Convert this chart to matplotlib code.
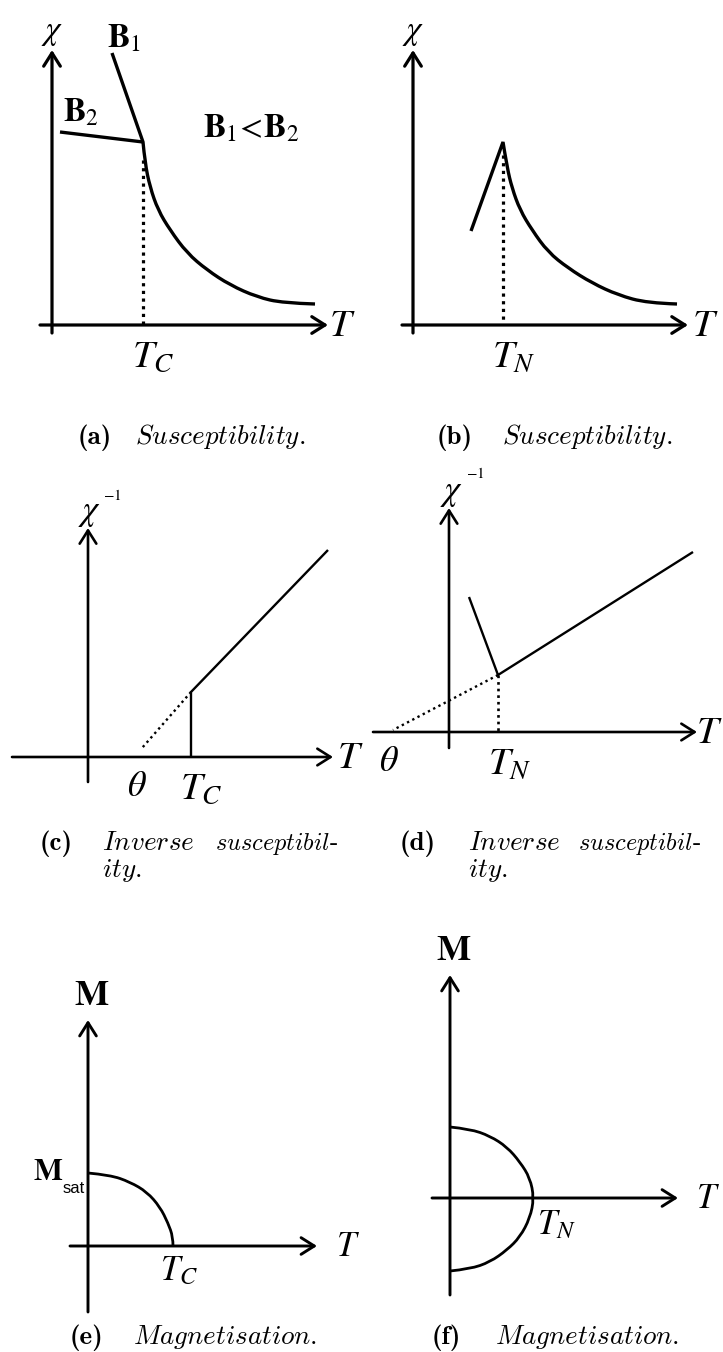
import matplotlib.pyplot as plt
from matplotlib.path import Path
from matplotlib.patches import PathPatch

plt.rcParams['mathtext.fontset'] = 'stix'

W, H = 723, 1352

# (a) ferromagnet: chi(T) for two fields, Curie-Weiss tail above T_C
a_TC = 91
a_B1_T = [60, 91]
a_B1_chi = [272, 183]
a_B2_T = [8, 91]
a_B2_chi = [193, 183]
a_tail_T = [91, 93, 98, 106, 118, 135, 155, 178, 205, 231, 263]
a_tail_chi = [183, 162, 138, 115, 95, 72, 55, 40, 28, 22, 21]

# (b) antiferromagnet: cusp at T_N
b_TN = 90
b_low_T = [58, 90]
b_low_chi = [94, 183]
b_tail_T = [90, 94, 99, 107, 119, 135, 155, 179, 205, 234, 264]
b_tail_chi = [183, 158, 137, 115, 95, 73, 57, 42, 30, 22, 21]

# (c) inverse susceptibility, ferromagnet
c_line_T = [103, 103, 240]
c_line_inv = [0, 65, 207]
c_extrap_T = [103, 54]
c_extrap_inv = [65, 9]

# (d) inverse susceptibility, antiferromagnet
d_TN = 49
d_T = [20, 49, 244]
d_inv = [135, 57, 180]
d_extrap_T = [49, -56]
d_extrap_inv = [57, 2]

# (e) spontaneous magnetisation
e_T = [0, 22, 42, 59, 72, 80, 85, 85]
e_M = [73, 71, 64, 54, 39, 23, 9, 0]

# (f) sublattice magnetisation
f_T = [0, 20, 40, 57, 70, 80, 84, 80, 70, 57, 40, 20, 0]
f_M = [71, 69, 62, 51, 36, 20, 0, -20, -39, -52, -64, -71, -73]

fig = plt.figure(figsize=(W / 100, H / 100), dpi=100)


def make_panel(ox, oy):
    # full-figure axes, 1 unit = 1 px, origin at the panel's axis crossing
    ax = fig.add_axes([0, 0, 1, 1])
    ax.set_xlim(-ox, W - ox)
    ax.set_ylim(-(H - oy), oy)
    ax.axis('off')
    ax.patch.set_alpha(0)
    return ax


def arrows(ax, x0, x1, y0, y1, lw):
    kw = dict(arrowstyle='->,head_length=0.95,head_width=0.6', lw=lw,
              color='k', shrinkA=0, shrinkB=0)
    ax.annotate('', xy=(x1, 0), xytext=(x0, 0), arrowprops=kw)
    ax.annotate('', xy=(0, y1), xytext=(0, y0), arrowprops=kw)


def line(ax, x, y, lw):
    ax.plot(x, y, color='k', lw=lw, solid_capstyle='butt',
            solid_joinstyle='miter')


def curve(ax, x, y, lw, lead=None):
    # quadratic pieces through the midpoints of the sampled points;
    # an optional straight lead-in segment is joined with a sharp corner
    verts, codes = [], []
    if lead is not None:
        verts.append(lead)
        codes.append(Path.MOVETO)
        verts.append((x[0], y[0]))
        codes.append(Path.LINETO)
    else:
        verts.append((x[0], y[0]))
        codes.append(Path.MOVETO)
    pts = list(zip(x, y))
    for i in range(1, len(pts) - 1):
        mid = ((pts[i][0] + pts[i + 1][0]) / 2, (pts[i][1] + pts[i + 1][1]) / 2)
        if i == len(pts) - 2:
            mid = pts[-1]
        verts += [pts[i], mid]
        codes += [Path.CURVE3, Path.CURVE3]
    ax.add_patch(PathPatch(Path(verts, codes), fill=False, ec='k', lw=lw,
                           joinstyle='miter', capstyle='butt'))


def dots(ax, x, y, lw, pat=(1, 1.3)):
    ax.plot(x, y, color='k', lw=lw, ls=(0, pat), dash_capstyle='butt')


def caption(x, y, s, ha='left', size=19.5):
    fig.text(x / W, 1 - y / H, s, fontsize=size, math_fontfamily='cm',
             ha=ha, va='baseline')


def tag(x, y, s):
    fig.text(x / W, 1 - y / H, s, fontsize=19.5, family='cmb10',
             ha='left', va='baseline')


# ---- (a)
ax = make_panel(52, 325)
arrows(ax, -12, 276, -8, 275, 2.3)
line(ax, a_B2_T, a_B2_chi, 2.4)
curve(ax, a_tail_T, a_tail_chi, 2.4, lead=(a_B1_T[0], a_B1_chi[0]))
dots(ax, [a_TC, a_TC], [165, 0], 2.3, (1, 1.4))
ax.text(0, 293, r'$\chi$', fontsize=24, ha='center', va='center')
ax.text(290, 0, r'$T$', fontsize=28, ha='center', va='center')
ax.text(80, -12, r'$T_C$', fontsize=28, ha='left', va='top')
ax.text(55, 278, r'$\mathbf{B}_1$', fontsize=24, ha='left', va='baseline')
ax.text(11, 203, r'$\mathbf{B}_2$', fontsize=24, ha='left', va='baseline')
ax.text(151, 188, r'$\mathbf{B}_1\!<\!\mathbf{B}_2$', fontsize=24,
        ha='left', va='baseline')

# ---- (b)
ax = make_panel(413, 325)
arrows(ax, -11, 275, -8, 275, 2.3)
curve(ax, b_tail_T, b_tail_chi, 2.4, lead=(b_low_T[0], b_low_chi[0]))
dots(ax, [b_TN, b_TN], [170, 0], 2.3, (1, 1.4))
ax.text(0, 293, r'$\chi$', fontsize=24, ha='center', va='center')
ax.text(292, 0, r'$T$', fontsize=28, ha='center', va='center')
ax.text(79, -12, r'$T_N$', fontsize=28, ha='left', va='top')

# ---- (c)
ax = make_panel(88, 757)
arrows(ax, -76, 245, -25, 229, 1.9)
line(ax, c_line_T, c_line_inv, 1.7)
dots(ax, c_extrap_T, c_extrap_inv, 1.7, (1, 1.5))
ax.text(2, 245, r'$\chi$', fontsize=25, ha='center', va='center')
ax.text(24, 262, r'$-1$', fontsize=11, ha='center', va='center')
ax.text(262, 0, r'$T$', fontsize=28, ha='center', va='center')
ax.text(49, -12, r'$\theta$', fontsize=26, ha='center', va='top')
ax.text(92, -12, r'$T_C$', fontsize=28, ha='left', va='top')

# ---- (d)
ax = make_panel(449, 732)
arrows(ax, -76, 248, -16, 224, 1.9)
line(ax, d_T, d_inv, 1.7)
dots(ax, d_extrap_T, d_extrap_inv, 1.7, (1, 1.5))
dots(ax, [d_TN, d_TN], [57, 0], 1.9, (1, 1.5))
ax.text(3, 240, r'$\chi$', fontsize=25, ha='center', va='center')
ax.text(26, 258, r'$-1$', fontsize=11, ha='center', va='center')
ax.text(260, 0, r'$T$', fontsize=28, ha='center', va='center')
ax.text(-60, -12, r'$\theta$', fontsize=26, ha='center', va='top')
ax.text(39, -12, r'$T_N$', fontsize=28, ha='left', va='top')

# ---- (e)
ax = make_panel(88, 1246)
arrows(ax, -18, 229, -66, 226, 2.1)
curve(ax, e_T, e_M, 2.0)
ax.text(4, 251, r'$\mathbf{M}$', fontsize=26, ha='center', va='center')
ax.text(260, 0, r'$T$', fontsize=25, ha='center', va='center')
ax.text(-55, 66, r'$\mathbf{M}$', fontsize=22, ha='left', va='baseline')
ax.text(-3, 53, 'sat', fontsize=12, family='Liberation Sans', ha='right',
        va='baseline')
ax.text(72, -7, r'$T_C$', fontsize=25, ha='left', va='top')

# ---- (f)
ax = make_panel(450, 1198)
arrows(ax, -18, 228, -97, 223, 2.1)
curve(ax, f_T, f_M, 2.0)
ax.text(4, 248, r'$\mathbf{M}$', fontsize=26, ha='center', va='center')
ax.text(258, 0, r'$T$', fontsize=25, ha='center', va='center')
ax.text(87, -9, r'$T_N$', fontsize=25, ha='left', va='top')

# ---- captions
tag(78, 444, '(a)')
caption(135, 444, r'$\mathit{Susceptibility.}$')
tag(437, 444, '(b)')
caption(502, 444, r'$\mathit{Susceptibility.}$')

for lab, x0, xw, xe in [('(c)', 40, 102, 338), ('(d)', 400, 468, 701)]:
    tag(x0, 850, lab)
    caption(xw, 850, r'$\mathit{Inverse}$')
    caption(xe - 8, 850, r'$\mathit{susceptibil}$', ha='right', size=17.5)
    fig.text(xe / W, 1 - 850 / H, '-', fontsize=18, family='cmr10',
             ha='right', va='baseline')
    caption(xw, 877, r'$\mathit{ity.}$')

tag(70, 1344, '(e)')
caption(133, 1344, r'$\mathit{Magnetisation.}$')
tag(432, 1344, '(f)')
caption(495, 1344, r'$\mathit{Magnetisation.}$')

fig.savefig('out.png', dpi=100)
